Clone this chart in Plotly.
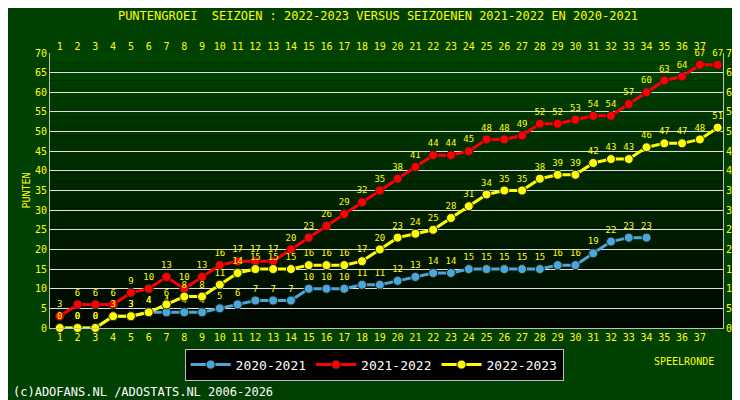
import plotly.graph_objects as go

rounds = list(range(1, 39))
s2021 = [0,0,0,3,3,4,4,4,4,5,6,7,7,7,10,10,10,11,11,12,13,14,14,15,15,15,15,15,16,16,19,22,23,23]
s2122 = [3,6,6,6,9,10,13,10,13,16,17,17,17,20,23,26,29,32,35,38,41,44,44,45,48,48,49,52,52,53,54,54,57,60,63,64,67,67]
s2223 = [0,0,0,3,3,4,6,8,8,11,14,15,15,15,16,16,16,17,20,23,24,25,28,31,34,35,35,38,39,39,42,43,43,46,47,47,48,51]
tick_rounds = list(range(1, 38))
y_ticks = list(range(0, 71, 5))

Y = "#ffff00"
fnt = "DejaVu Sans Mono"
fig = go.Figure()
def add(vals, name, color):
    x = rounds[:len(vals)]
    fig.add_trace(go.Scatter(x=x, y=vals, name=name, mode="lines+markers+text",
        line=dict(color=color, width=3),
        marker=dict(color=color, size=9, line=dict(color="#202020", width=1)),
        text=[str(v) for v in vals], textposition="top center",
        textfont=dict(color=Y, size=9, family=fnt), cliponaxis=False))
add(s2021, "2020-2021", "#4aa8d8")
add(s2122, "2021-2022", "#ff0000")
add(s2223, "2022-2023", "#ffff00")
fig.add_trace(go.Scatter(x=[1], y=[0], xaxis="x2", yaxis="y2", showlegend=False,
                         mode="markers", marker=dict(opacity=0), hoverinfo="skip"))

shapes = []
n = 30
for i in range(n):
    t = i / (n - 1)
    g = int(8 + 60 * t)
    shapes.append(dict(type="rect", xref="paper", yref="paper", x0=0, x1=1,
                       y0=i / n, y1=(i + 1) / n, fillcolor=f"rgb(0,{g},0)",
                       line=dict(width=0), layer="below"))

tf = dict(color=Y, size=10, family=fnt)
fig.update_layout(
    width=740, height=400, margin=dict(l=42, r=25, t=45, b=80, autoexpand=False),
    paper_bgcolor="#004000", plot_bgcolor="#000000", shapes=shapes,
    title=dict(text="PUNTENGROEI  SEIZOEN : 2022-2023 VERSUS SEIZOENEN 2021-2022 EN 2020-2021",
               x=0.5, y=0.99, yanchor="top", font=dict(color=Y, size=12, family=fnt)),
    xaxis=dict(range=[0.45, 38.3], tickvals=tick_rounds, tickfont=tf, showgrid=False,
               zeroline=False, showline=True, linecolor="#c0c0c0", ticks="", automargin=False),
    xaxis2=dict(range=[0.45, 38.3], tickvals=tick_rounds, tickfont=tf, overlaying="x",
                side="top", showgrid=False, zeroline=False, automargin=False),
    yaxis=dict(range=[0, 70], tickvals=y_ticks, tickfont=tf, gridcolor="#e0e0e0",
               gridwidth=1, zeroline=False, showline=True, linecolor="#c0c0c0", automargin=False,
               title=dict(text="PUNTEN", font=dict(color=Y, size=10, family=fnt), standoff=2)),
    yaxis2=dict(range=[0, 70], tickvals=y_ticks, tickfont=tf, overlaying="y", side="right",
                showgrid=False, zeroline=False, showline=True, linecolor="#c0c0c0", automargin=False),
    legend=dict(orientation="h", x=0.2, y=-0.075, yanchor="top", bgcolor="#000000",
                bordercolor="#c0c0c0", borderwidth=1,
                font=dict(color="#ffffff", size=13, family=fnt), itemwidth=40),
    showlegend=True,
    annotations=[
        dict(text="SPEELRONDE", xref="paper", yref="paper", x=0.99, y=-0.095, yanchor="top",
             xanchor="right", showarrow=False, font=dict(color=Y, size=10, family=fnt)),
        dict(text="(c)ADOFANS.NL /ADOSTATS.NL 2006-2026", xref="paper", yref="paper",
             x=-0.058, y=-0.2, yanchor="top", xanchor="left", showarrow=False,
             font=dict(color="#ffffff", size=12, family=fnt)),
    ],
)
fig.write_html("out.html")
